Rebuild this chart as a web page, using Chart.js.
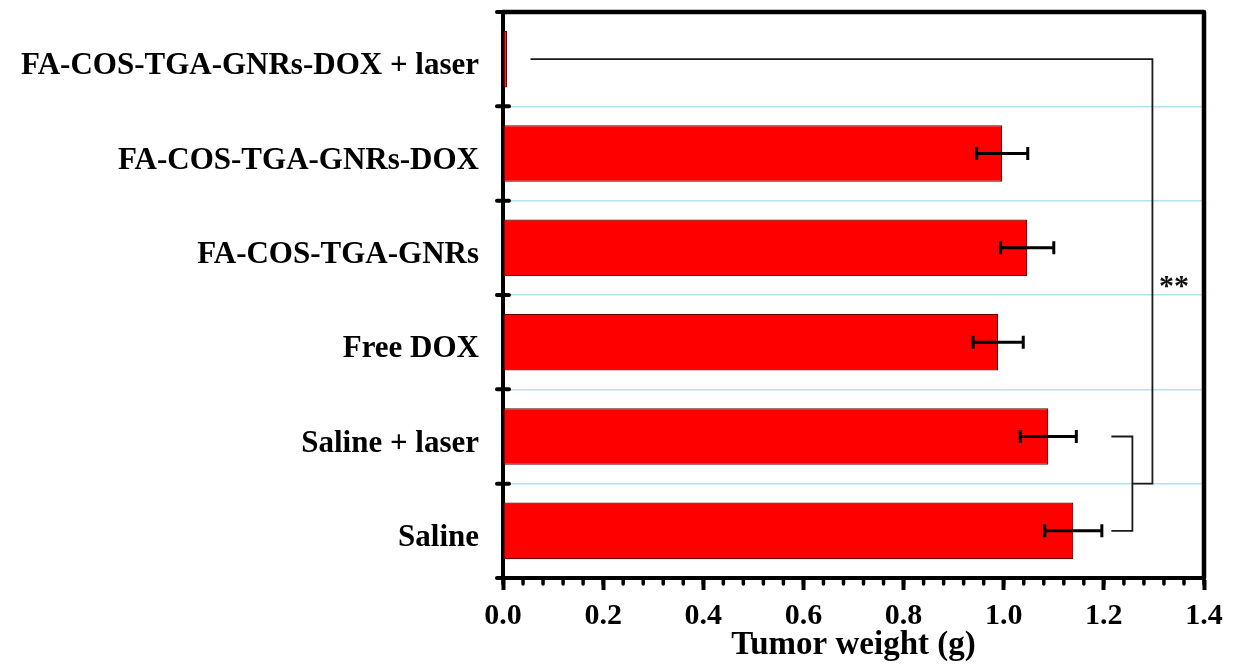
<!DOCTYPE html>
<html>
<head>
<meta charset="utf-8">
<title>Tumor weight</title>
<script src="https://cdn.jsdelivr.net/npm/chart.js@4/dist/chart.umd.min.js"></script>
<style>
  html, body { margin: 0; padding: 0; background: #fff; }
  #c { display: block; }
</style>
</head>
<body>
<canvas id="c" width="1239" height="669"></canvas>
<script>
// Groups, listed top to bottom
const groups = [
  'FA-COS-TGA-GNRs-DOX + laser',
  'FA-COS-TGA-GNRs-DOX',
  'FA-COS-TGA-GNRs',
  'Free DOX',
  'Saline + laser',
  'Saline'
];
// Mean tumor weight (g)
const weights = [0.008, 0.997, 1.047, 0.989, 1.089, 1.139];
// Standard deviation (g)
const errors = [0, 0.051, 0.053, 0.050, 0.056, 0.057];
// Axis range and labelled ticks
const xTickValues = [0.0, 0.2, 0.4, 0.6, 0.8, 1.0, 1.2, 1.4];
const xMinorStep = 0.04;
const xTitle = 'Tumor weight (g)';
const sigLabel = '**';

const FONT = '"Liberation Serif", "Times New Roman", serif';

// Error bars drawn at each bar end
const errorBarPlugin = {
  id: 'errorBars',
  afterDatasetsDraw(chart) {
    const { ctx, scales: { x } } = chart;
    const meta = chart.getDatasetMeta(0);
    ctx.save();
    ctx.strokeStyle = '#000';
    ctx.lineWidth = 3;
    meta.data.forEach((bar, i) => {
      const e = errors[i];
      if (!e) return;
      const y = bar.y;
      const x0 = x.getPixelForValue(weights[i] - e);
      const x1 = x.getPixelForValue(weights[i] + e);
      ctx.beginPath();
      ctx.moveTo(x0, y); ctx.lineTo(x1, y);
      ctx.moveTo(x0, y - 6.5); ctx.lineTo(x0, y + 6.5);
      ctx.moveTo(x1, y - 6.5); ctx.lineTo(x1, y + 6.5);
      ctx.stroke();
    });
    ctx.restore();
  }
};

// Frame, minor ticks and category separators on the axes
const framePlugin = {
  id: 'frame',
  afterDraw(chart) {
    const { ctx, chartArea: a, scales: { x, y } } = chart;
    ctx.save();
    ctx.strokeStyle = '#000';
    ctx.lineCap = 'round';
    ctx.lineJoin = 'round';
    // top and right border
    ctx.lineWidth = 4.5;
    ctx.beginPath();
    ctx.moveTo(a.left, a.top);
    ctx.lineTo(a.right, a.top);
    ctx.lineTo(a.right, a.bottom);
    ctx.stroke();
    // minor ticks on the value axis
    ctx.lineWidth = 3.5;
    const n = Math.round((x.max - x.min) / xMinorStep);
    for (let k = 0; k <= n; k++) {
      const px = x.getPixelForValue(x.min + k * xMinorStep);
      ctx.beginPath();
      ctx.moveTo(px, a.bottom);
      ctx.lineTo(px, a.bottom + 6);
      ctx.stroke();
    }
    // separators between groups, crossing the category axis
    ctx.lineWidth = 4;
    for (let k = 0; k <= groups.length; k++) {
      const py = y.getPixelForValue(k - 0.5);
      ctx.beginPath();
      ctx.moveTo(a.left - 6, py);
      ctx.lineTo(a.left + 6, py);
      ctx.stroke();
    }
    ctx.restore();
  }
};

// Significance bracket: Saline groups against the laser-treated conjugate
const sigPlugin = {
  id: 'significance',
  afterDatasetsDraw(chart) {
    const { ctx, scales: { x, y } } = chart;
    const X = v => x.getPixelForValue(v);
    const Y = v => y.getPixelForValue(v);
    ctx.save();
    ctx.strokeStyle = '#1a1a1a';
    ctx.lineWidth = 1.8;
    // inner bracket joining the two Saline groups
    ctx.beginPath();
    ctx.moveTo(X(1.215), Y(4));
    ctx.lineTo(X(1.257), Y(4));
    ctx.lineTo(X(1.257), Y(5));
    ctx.lineTo(X(1.215), Y(5));
    ctx.stroke();
    // outer link to the top group
    ctx.beginPath();
    ctx.moveTo(X(1.257), Y(4.5));
    ctx.lineTo(X(1.297), Y(4.5));
    ctx.lineTo(X(1.297), Y(0));
    ctx.lineTo(X(0.055), Y(0));
    ctx.stroke();
    ctx.fillStyle = '#111';
    ctx.font = 'bold 30px ' + FONT;
    ctx.textAlign = 'center';
    ctx.textBaseline = 'alphabetic';
    ctx.fillText(sigLabel, X(1.34), Y(2.5));
    ctx.restore();
  }
};

new Chart(document.getElementById('c'), {
  type: 'bar',
  data: {
    labels: groups,
    datasets: [{
      data: weights,
      backgroundColor: '#ff0000',
      borderColor: '#6a0000',
      borderWidth: 1.2,
      borderSkipped: false,
      barPercentage: 0.6,
      categoryPercentage: 1
    }]
  },
  options: {
    indexAxis: 'y',
    responsive: false,
    animation: false,
    devicePixelRatio: 1,
    layout: { padding: { top: 12, right: 35, left: 0, bottom: 0 } },
    plugins: { legend: { display: false }, tooltip: { enabled: false } },
    scales: {
      y: {
        type: 'category',
        offset: true,
        afterFit(s) { s.width = 503; s.paddingTop = 0; s.paddingBottom = 0; },
        grid: {
          offset: true,
          drawTicks: false,
          lineWidth: 1.5,
          color: c => (c.index === 0 || c.index >= groups.length) ? 'rgba(0,0,0,0)' : '#b0e4ee'
        },
        border: { display: true, color: '#000', width: 4 },
        ticks: {
          color: '#000',
          padding: 24,
          labelOffset: 7,
          font: { family: FONT, size: 31, weight: 'bold' }
        }
      },
      x: {
        type: 'linear',
        min: xTickValues[0],
        max: xTickValues[xTickValues.length - 1],
        afterFit(s) { s.height = 91; s.paddingLeft = 0; s.paddingRight = 0; },
        afterBuildTicks(s) { s.ticks = xTickValues.map(v => ({ value: v })); },
        grid: {
          drawOnChartArea: false,
          drawTicks: true,
          tickLength: 12,
          tickWidth: 4,
          tickColor: '#000'
        },
        border: { display: true, color: '#000', width: 4 },
        ticks: {
          color: '#000',
          padding: 8,
          maxRotation: 0,
          font: { family: FONT, size: 30, weight: 'bold' },
          callback: v => Number(v).toFixed(1)
        },
        title: {
          display: true,
          text: xTitle,
          color: '#000',
          padding: { top: 0, bottom: 4 },
          font: { family: FONT, size: 33, weight: 'bold' }
        }
      }
    }
  },
  plugins: [errorBarPlugin, sigPlugin, framePlugin]
});
</script>
</body>
</html>
